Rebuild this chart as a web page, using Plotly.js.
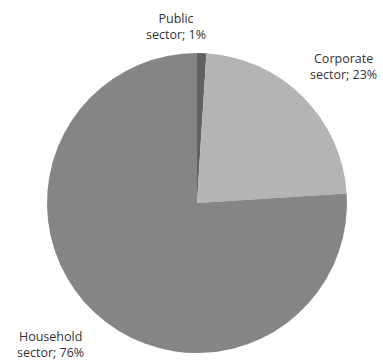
<!DOCTYPE html>
<html>
<head>
<meta charset="utf-8">
<script src="https://cdn.plot.ly/plotly-3.0.1.min.js"></script>
<style>html,body{margin:0;padding:0;background:#fff;}#chart{width:383px;height:363px;}</style>
</head>
<body>
<div id="chart"></div>
<script>
const sectors = ["Public<br>sector", "Corporate<br>sector", "Household<br>sector"];
const shares = [1, 23, 76];
const colors = ["#626262", "#b4b4b4", "#858585"];
const labelX = [176, 343, 50];
const labelY = [26, 66, 344];

const W = 383, H = 363;
const data = [{
  type: "pie",
  labels: sectors,
  values: shares,
  sort: false,
  direction: "clockwise",
  rotation: 0,
  textinfo: "none",
  hoverinfo: "label+percent",
  marker: {colors: colors, line: {width: 0}},
  showlegend: false,
  domain: {x: [(197-150)/W, (197+150)/W], y: [1-353/H, 1-53/H]}
}];

const annotations = sectors.map((s, i) => ({
  text: s + "; " + shares[i] + "%",
  x: labelX[i] / W, y: 1 - labelY[i] / H,
  xref: "paper", yref: "paper",
  xanchor: "center", yanchor: "middle",
  showarrow: false, align: "center",
  font: {family: "'Open Sans', sans-serif", size: 12.5, color: "#333"}
}));

Plotly.newPlot("chart", data, {
  width: W, height: H,
  margin: {l: 0, r: 0, t: 0, b: 0},
  paper_bgcolor: "#fff",
  annotations: annotations
}, {displayModeBar: false, staticPlot: true});
</script>
</body>
</html>
